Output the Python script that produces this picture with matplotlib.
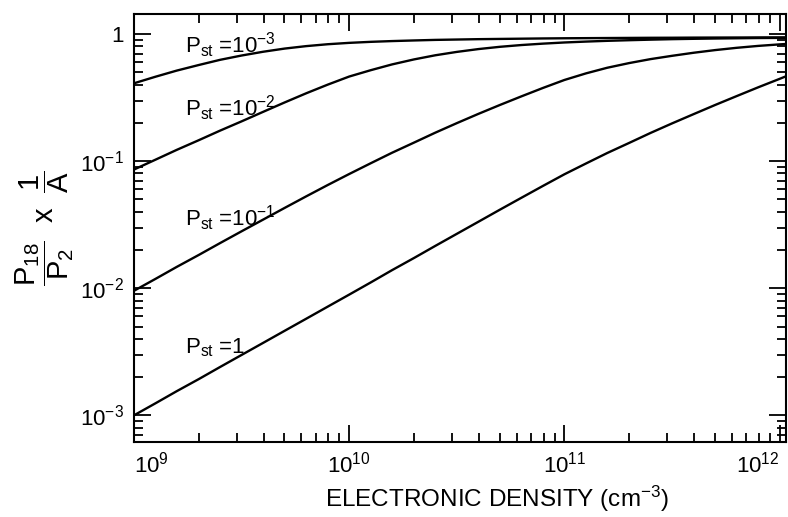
import matplotlib
matplotlib.use("Agg")
import matplotlib.pyplot as plt
from matplotlib.ticker import LogLocator, NullFormatter, FixedLocator, FixedFormatter

plt.rcParams['font.family'] = ['Liberation Sans', 'DejaVu Sans']
plt.rcParams['mathtext.fontset'] = 'custom'
plt.rcParams['mathtext.rm'] = 'Liberation Sans'
plt.rcParams['mathtext.it'] = 'Liberation Sans'
plt.rcParams['mathtext.bf'] = 'Liberation Sans:bold'
plt.rcParams['mathtext.default'] = 'regular'

# electron density (cm^-3), 0.1 decade steps
density = [1.0e9, 1.26e9, 1.58e9, 2.0e9, 2.51e9, 3.16e9, 3.98e9, 5.01e9, 6.31e9, 7.94e9,
           1.0e10, 1.26e10, 1.58e10, 2.0e10, 2.51e10, 3.16e10, 3.98e10, 5.01e10, 6.31e10, 7.94e10,
           1.0e11, 1.26e11, 1.58e11, 2.0e11, 2.51e11, 3.16e11, 3.98e11, 5.01e11, 6.31e11, 7.94e11,
           1.0e12, 1.07e12]

# (P18 / P2) x 1/A for each sticking probability P_st
ratio_pst_1e3 = [0.410, 0.462, 0.516, 0.571, 0.627, 0.678, 0.726, 0.769, 0.804, 0.832,
                 0.853, 0.869, 0.881, 0.891, 0.900, 0.906, 0.912, 0.916, 0.920, 0.924,
                 0.927, 0.929, 0.931, 0.933, 0.935, 0.936, 0.938, 0.939, 0.940, 0.941,
                 0.942, 0.942]
ratio_pst_1e2 = [0.0859, 0.1028, 0.1227, 0.1462, 0.1738, 0.2056, 0.2443, 0.2897, 0.3420, 0.3999,
                 0.4634, 0.520, 0.577, 0.632, 0.681, 0.724, 0.762, 0.794, 0.820, 0.841,
                 0.859, 0.873, 0.885, 0.895, 0.904, 0.912, 0.918, 0.923, 0.927, 0.931,
                 0.933, 0.934]
ratio_pst_1e1 = [0.00955, 0.01186, 0.01472, 0.01828, 0.02265, 0.02805, 0.03467, 0.04285, 0.05284, 0.06486,
                 0.07925, 0.09638, 0.1164, 0.1400, 0.1675, 0.1991, 0.2355, 0.2767, 0.3236, 0.3767,
                 0.4355, 0.4909, 0.5433, 0.5916, 0.6353, 0.6745, 0.7129, 0.7482, 0.7798, 0.8072,
                 0.8299, 0.8356]
ratio_pst_1 = [0.001000, 0.001245, 0.001549, 0.001928, 0.002399, 0.002985, 0.003715, 0.004624, 0.005754, 0.007161,
               0.008913, 0.01112, 0.01387, 0.01730, 0.02153, 0.02679, 0.03334, 0.04150, 0.05152, 0.06383,
               0.07889, 0.09594, 0.1159, 0.1393, 0.1667, 0.1982, 0.2344, 0.2767, 0.3251, 0.3811,
               0.4446, 0.4656]

curves = [ratio_pst_1e3, ratio_pst_1e2, ratio_pst_1e1, ratio_pst_1]
curve_labels = ['P$_{st}$ =10$^{-3}$', 'P$_{st}$ =10$^{-2}$',
                'P$_{st}$ =10$^{-1}$', 'P$_{st}$ =1']
label_y = [0.82, 0.263, 0.0353, 0.0034]
label_x = 1.72e9

x_ticks = [1e9, 1e10, 1e11, 1e12]
x_tick_labels = ['10$^{9}$', '10$^{10}$', '10$^{11}$', '10$^{12}$']
y_ticks = [1e-3, 1e-2, 1e-1, 1]
y_tick_labels = ['10$^{-3}$', '10$^{-2}$', '10$^{-1}$', '1']

fig = plt.figure(figsize=(7.88, 5.17), dpi=100)
ax = fig.add_axes([0.170, 0.1456, 0.8275, 0.8274])

for ratio in curves:
    ax.plot(density, ratio, color='black', lw=1.7, solid_capstyle='butt',
            solid_joinstyle='round')

for text, y in zip(curve_labels, label_y):
    ax.text(label_x, y, text, fontsize=16, ha='left', va='center')

ax.set_xscale('log')
ax.set_yscale('log')
ax.set_xlim(1e9, 1.07e12)
ax.set_ylim(6.2e-4, 1.44)

ax.xaxis.set_major_locator(FixedLocator(x_ticks))
ax.xaxis.set_major_formatter(FixedFormatter(x_tick_labels))
ax.yaxis.set_major_locator(FixedLocator(y_ticks))
ax.yaxis.set_major_formatter(FixedFormatter(y_tick_labels))
ax.xaxis.set_minor_locator(LogLocator(base=10, subs=range(2, 10), numticks=20))
ax.yaxis.set_minor_locator(LogLocator(base=10, subs=range(2, 10), numticks=20))
ax.xaxis.set_minor_formatter(NullFormatter())
ax.yaxis.set_minor_formatter(NullFormatter())

ax.tick_params(which='both', direction='in', top=True, right=True,
               width=1.3, labelsize=16)
ax.tick_params(which='major', length=12)
ax.tick_params(which='minor', length=6.5)
ax.tick_params(axis='x', pad=7)
ax.tick_params(axis='y', pad=7)

labels = ax.get_xticklabels()
labels[0].set_ha('left')
labels[-1].set_ha('right')

for spine in ax.spines.values():
    spine.set_linewidth(1.5)

fig.text(497 / 788, 1 - 507 / 517, 'ELECTRONIC DENSITY (cm$^{-3}$)',
         fontsize=17.5, ha='center', va='baseline')
fig.text(45 / 788, 1 - 228 / 517,
         r'$\dfrac{P_{18}}{P_{2}}\ \ x\ \ \dfrac{1}{A}$',
         fontsize=21, rotation=90, ha='center', va='center')

fig.savefig('out.png', dpi=100)
